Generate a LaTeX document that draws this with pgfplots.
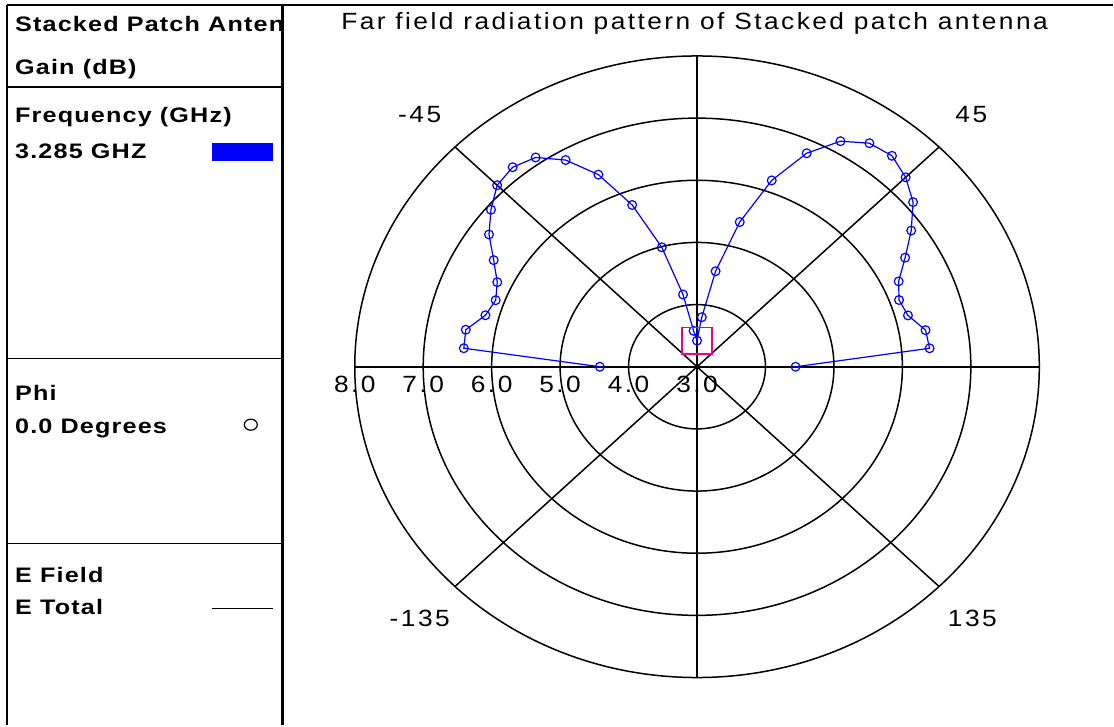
\documentclass[border=0pt]{standalone}
\usepackage{pgfplots}
\pgfplotsset{compat=1.18}
\usepackage{pgfplotstable}
\usepackage{fontspec}
\setmainfont{Liberation Sans}
\newfontfamily\plotfont[FakeStretch=1.12, LetterSpace=10.5]{Liberation Sans}
\newfontfamily\panelfont[FakeStretch=1.2, LetterSpace=5.5]{Liberation Sans}

% Far-field gain (dB) of the stacked patch, phi = 0 cut, theta in degrees
\pgfplotstableread{
theta gain
-90 4.42
-85 6.42
-80 6.43
-75 6.20
-70 6.13
-65 6.22
-60 6.43
-55 6.71
-50 6.93
-45 7.13
-40 7.19
-35 7.11
-30 6.84
-25 6.41
-20 5.77
-15 4.99
-10 4.18
-5 3.58
0 3.42
5 3.80
10 4.56
15 5.41
20 6.19
25 6.79
30 7.19
35 7.39
40 7.43
45 7.31
50 7.12
55 6.82
60 6.51
65 6.25
70 6.14
75 6.19
80 6.39
85 6.41
90 4.44
}\gaintable

\begin{document}
\begin{tikzpicture}[x=1pt,y=1pt]
\fill[white] (0,0) rectangle (1114,725);

% ---- frame and legend panel ----
\draw[line width=1.5pt] (7,720) -- (1114,720);
\draw[line width=1.2pt] (7,0) -- (7,720);
\draw[line width=3pt] (283,0) -- (283,720);
\draw[line width=1.2pt] (7,638) -- (283,638);
\draw[line width=1.2pt] (7,366) -- (283,366);
\draw[line width=1.2pt] (7,181) -- (283,181);

\begin{scope}
\clip (8,639) rectangle (281.5,719);
\node[anchor=base west, inner sep=0pt, font=\panelfont\bfseries\fontsize{21}{25}\selectfont] at (15,693) {Stacked Patch Antenna};
\node[anchor=base west, inner sep=0pt, font=\panelfont\bfseries\fontsize{21}{25}\selectfont] at (15,650) {Gain (dB)};
\end{scope}
\begin{scope}[every node/.style={anchor=base west, inner sep=0pt, font=\panelfont\bfseries\fontsize{21}{25}\selectfont}]
\node at (15,602) {Frequency (GHz)};
\node at (15,566) {3.285 GHZ};
\node at (15,324) {Phi};
\node at (15,291) {0.0 Degrees};
\node at (15,142) {E Field};
\node at (15,110) {E Total};
\end{scope}
\fill[blue] (212,564) rectangle (273,582);
\draw[line width=1.2pt] (251,300) ellipse [x radius=6.5, y radius=5.5];
\draw[line width=1.2pt] (212,116) -- (273,116);

% ---- polar grid (centre 697.5,358; 68.5 x 62.2 per dB) ----
\begin{scope}[line width=1.5pt, black]
\draw (697.5,358) ellipse [x radius=68.5, y radius=62.2];
\draw (697.5,358) ellipse [x radius=137, y radius=124.4];
\draw (697.5,358) ellipse [x radius=205.5, y radius=186.6];
\draw (697.5,358) ellipse [x radius=274, y radius=248.8];
\draw (697.5,358) ellipse [x radius=342.5, y radius=311];
\draw (355,358) -- (1040,358);
\draw (697.5,47) -- (697.5,669);
\draw (455.3,577.9) -- (939.7,138.1);
\draw (455.3,138.1) -- (939.7,577.9);
\end{scope}

% ---- titles and scale labels ----
\node[anchor=base, inner sep=0pt, font=\plotfont\fontsize{23.5}{26}\selectfont] at (695,695) {Far field radiation pattern of Stacked patch antenna};
\begin{scope}[every node/.style={anchor=base, inner sep=0pt, font=\plotfont\fontsize{23.5}{26}\selectfont}]
\node at (355,332) {8.0};
\node at (423.5,332) {7.0};
\node at (492,332) {6.0};
\node at (560.5,332) {5.0};
\node at (629,332) {4.0};
\node at (697.5,332) {3.0};
\node at (420,602) {-45};
\node at (972,602) {45};
\node at (420,98) {-135};
\node at (973,98) {135};
\end{scope}

% ---- radiation pattern ----
\begin{axis}[at={(355pt,47pt)}, anchor=south west, scale only axis,
  width=685pt, height=622pt, xmin=-5, xmax=5, ymin=-5, ymax=5,
  hide axis, clip=false]
\addplot[color=blue, line width=1.2pt, mark=o, mark size=4.4pt,
  mark options={fill=white, line width=1.2pt}]
  table[x expr={(\thisrow{gain}-3)*sin(\thisrow{theta})},
        y expr={(\thisrow{gain}-3)*cos(\thisrow{theta})}] {\gaintable};
% marker box on the broadside sample (row 18, theta = 0)
\addplot[color=magenta, line width=1.6pt, only marks, mark=square, mark size=15pt,
  mark options={yscale=0.88}, restrict expr to domain={\coordindex}{18:18}]
  table[x expr={(\thisrow{gain}-3)*sin(\thisrow{theta})},
        y expr={(\thisrow{gain}-3)*cos(\thisrow{theta})}] {\gaintable};
\end{axis}
\end{tikzpicture}
\end{document}
